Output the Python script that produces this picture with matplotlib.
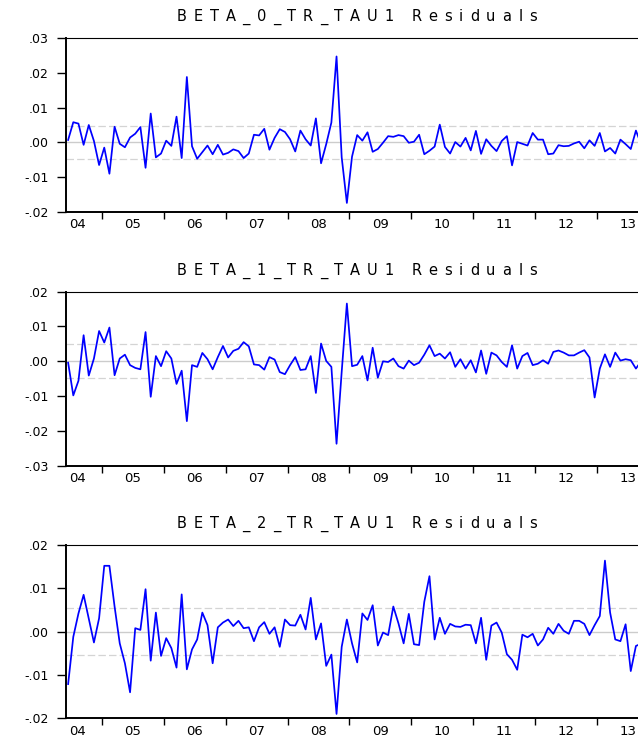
import matplotlib
matplotlib.use("Agg")
import matplotlib.pyplot as plt
import numpy as np
import pandas as pd
from matplotlib.ticker import FuncFormatter, FixedLocator
from matplotlib.transforms import IdentityTransform

# monthly residuals, 2004M06 .. 2013M09
months = pd.period_range("2004-06", periods=112, freq="M")

beta0_resid = [
    0.0007, 0.0058, 0.0054, -0.0007, 0.0050, 0.0004, -0.0065, -0.0015, -0.0090, 0.0045,
    -0.0004, -0.0014, 0.0014, 0.0025, 0.0044, -0.0073, 0.0083, -0.0043, -0.0032, 0.0005,
    -0.0010, 0.0074, -0.0045, 0.0188, -0.0011, -0.0047, -0.0028, -0.0009, -0.0034, -0.0007,
    -0.0035, -0.0030, -0.0020, -0.0025, -0.0045, -0.0032, 0.0022, 0.0020, 0.0039, -0.0021,
    0.0013, 0.0038, 0.0030, 0.0009, -0.0026, 0.0034, 0.0009, -0.0009, 0.0069, -0.0060,
    -0.0005, 0.0057, 0.0247, -0.0043, -0.0174, -0.0041, 0.0021, 0.0005, 0.0029, -0.0027,
    -0.0019, -0.0001, 0.0018, 0.0016, 0.0021, 0.0018, -0.0001, 0.0002, 0.0022, -0.0034,
    -0.0024, -0.0012, 0.0051, -0.0013, -0.0032, 0.0001, -0.0012, 0.0013, -0.0023, 0.0033,
    -0.0033, 0.0009, -0.0010, -0.0025, 0.0004, 0.0018, -0.0066, 0.0001, -0.0004, -0.0009,
    0.0027, 0.0008, 0.0008, -0.0034, -0.0032, -0.0008, -0.0011, -0.0010, -0.0003, 0.0002,
    -0.0017, 0.0006, -0.0010, 0.0027, -0.0026, -0.0016, -0.0032, 0.0008, -0.0005, -0.0019,
    0.0034, -0.0005,
]

beta1_resid = [
    -0.0004, -0.0098, -0.0056, 0.0075, -0.0041, 0.0008, 0.0087, 0.0054, 0.0097, -0.0040,
    0.0008, 0.0019, -0.0011, -0.0019, -0.0023, 0.0084, -0.0102, 0.0015, -0.0014, 0.0029,
    0.0008, -0.0065, -0.0027, -0.0172, -0.0011, -0.0016, 0.0024, 0.0006, -0.0023, 0.0012,
    0.0044, 0.0011, 0.0030, 0.0036, 0.0055, 0.0043, -0.0009, -0.0011, -0.0024, 0.0012,
    0.0005, -0.0031, -0.0037, -0.0011, 0.0012, -0.0025, -0.0023, 0.0015, -0.0091, 0.0051,
    0.0001, -0.0016, -0.0237, -0.0030, 0.0166, -0.0014, -0.0010, 0.0015, -0.0055, 0.0039,
    -0.0047, 0.0000, -0.0002, 0.0008, -0.0014, -0.0021, 0.0002, -0.0011, -0.0004, 0.0019,
    0.0046, 0.0015, 0.0022, 0.0008, 0.0026, -0.0016, 0.0006, -0.0021, 0.0003, -0.0032,
    0.0031, -0.0036, 0.0025, 0.0017, -0.0002, -0.0016, 0.0046, -0.0021, 0.0015, 0.0024,
    -0.0011, -0.0007, 0.0003, -0.0007, 0.0027, 0.0031, 0.0025, 0.0017, 0.0017, 0.0025,
    0.0032, 0.0011, -0.0104, -0.0021, 0.0020, -0.0016, 0.0025, 0.0002, 0.0006, 0.0003,
    -0.0021, 0.0000,
]

beta2_resid = [
    -0.0121, -0.0012, 0.0042, 0.0085, 0.0030, -0.0025, 0.0031, 0.0152, 0.0152, 0.0058,
    -0.0027, -0.0073, -0.0140, 0.0008, 0.0004, 0.0098, -0.0067, 0.0044, -0.0056, -0.0015,
    -0.0038, -0.0083, 0.0086, -0.0087, -0.0041, -0.0018, 0.0044, 0.0015, -0.0073, 0.0010,
    0.0021, 0.0028, 0.0013, 0.0025, 0.0008, 0.0010, -0.0022, 0.0010, 0.0022, -0.0005,
    0.0010, -0.0035, 0.0028, 0.0015, 0.0014, 0.0039, 0.0005, 0.0078, -0.0018, 0.0019,
    -0.0079, -0.0053, -0.0190, -0.0035, 0.0028, -0.0027, -0.0071, 0.0042, 0.0027, 0.0061,
    -0.0032, -0.0002, -0.0008, 0.0058, 0.0019, -0.0027, 0.0041, -0.0029, -0.0031, 0.0069,
    0.0128, -0.0018, 0.0032, -0.0005, 0.0018, 0.0012, 0.0011, 0.0016, 0.0015, -0.0027,
    0.0032, -0.0065, 0.0014, 0.0021, -0.0002, -0.0052, -0.0065, -0.0088, -0.0007, -0.0013,
    -0.0005, -0.0032, -0.0018, 0.0009, -0.0005, 0.0018, 0.0002, -0.0005, 0.0025, 0.0025,
    0.0018, -0.0008, 0.0015, 0.0036, 0.0164, 0.0044, -0.0018, -0.0022, 0.0017, -0.0091,
    -0.0033, -0.0028,
]

titles = ["BETA_0_TR_TAU1 Residuals", "BETA_1_TR_TAU1 Residuals", "BETA_2_TR_TAU1 Residuals"]
series = [beta0_resid, beta1_resid, beta2_resid]
bands = [0.0047, 0.0049, 0.0054]          # +/- reference band
ylims = [(-0.02, 0.03), (-0.03, 0.02), (-0.02, 0.02)]
year_labels = ["04", "05", "06", "07", "08", "09", "10", "11", "12", "13"]

W, H = 638, 740
LEFT, RIGHT = 66, 648
panel_px = [(38, 212), (291.7, 465.7), (545, 718.3)]   # top, bottom in pixels
XLIM = (2004.424, 2013.82)

x = np.array([p.year + (p.month - 0.5) / 12 for p in months])

fig = plt.figure(figsize=(W / 100, H / 100), dpi=100, facecolor="white")
renderer = fig.canvas.get_renderer()


def dot_fmt(v, pos):
    s = f"{v:.2f}"
    return s.replace("0.", ".", 1)


def spaced_title(text, cx, baseline, width, size):
    # EViews-style tracked title, letters spread over a fixed width
    pieces, widths = [], []
    for ch in text:
        t = fig.text(0, 0, ch, transform=IdentityTransform(), fontsize=size,
                     family="DejaVu Sans", color="black", ha="left", va="baseline")
        pieces.append(t)
        if ch == " ":
            widths.append(0.3 * size * 100 / 72)
        else:
            widths.append(t.get_window_extent(renderer).width)
    gap = (width - sum(widths)) / (len(text) - 1)
    xpos = cx - width / 2
    for t, w in zip(pieces, widths):
        t.set_position((xpos, H - baseline))
        xpos += w + gap


for (top, bottom), vals, title, band, ylim in zip(panel_px, series, titles, bands, ylims):
    ax = fig.add_axes([LEFT / W, 1 - bottom / H, (RIGHT - LEFT) / W, (bottom - top) / H])
    ax.axhline(0, color="#cccccc", lw=1.0, zorder=1)
    for b in (band, -band):
        ax.axhline(b, color="#d4d4d4", lw=0.9, ls=(0, (6, 2.5)), zorder=1)
    ax.plot(x, vals, color="#0000ff", lw=1.25, zorder=3)

    ax.set_xlim(*XLIM)
    ax.set_ylim(*ylim)

    # year boundaries get tick marks, labels sit in the middle of each year
    ax.xaxis.set_major_locator(FixedLocator(np.arange(2005, 2014)))
    ax.xaxis.set_major_formatter(FuncFormatter(lambda v, p: ""))
    mids = np.arange(2004, 2014) + 0.5
    mids[0] = XLIM[0] + 0.19
    ax.xaxis.set_minor_locator(FixedLocator(mids))
    ax.xaxis.set_minor_formatter(FuncFormatter(lambda v, p: year_labels[p] if p is not None else ""))
    ax.tick_params(axis="x", which="major", direction="out", length=5, width=1.0, color="black")
    ax.tick_params(axis="x", which="minor", length=0, pad=4.5, labelsize=9.5,
                   labelfontfamily="DejaVu Sans")

    ax.set_yticks(np.arange(ylim[0], ylim[1] + 1e-9, 0.01))
    ax.yaxis.set_major_formatter(FuncFormatter(dot_fmt))
    ax.tick_params(axis="y", direction="out", length=6.5, width=1.0, pad=6,
                   labelsize=9, labelfontfamily="DejaVu Sans")

    ax.spines["left"].set_linewidth(1.4)
    ax.spines["bottom"].set_linewidth(1.4)
    ax.spines["top"].set_linewidth(0.8)
    ax.spines["right"].set_visible(False)

    spaced_title(title, (LEFT + RIGHT) / 2, top - 17, 360, 10.5)

fig.savefig("out.png", dpi=100, facecolor="white")
